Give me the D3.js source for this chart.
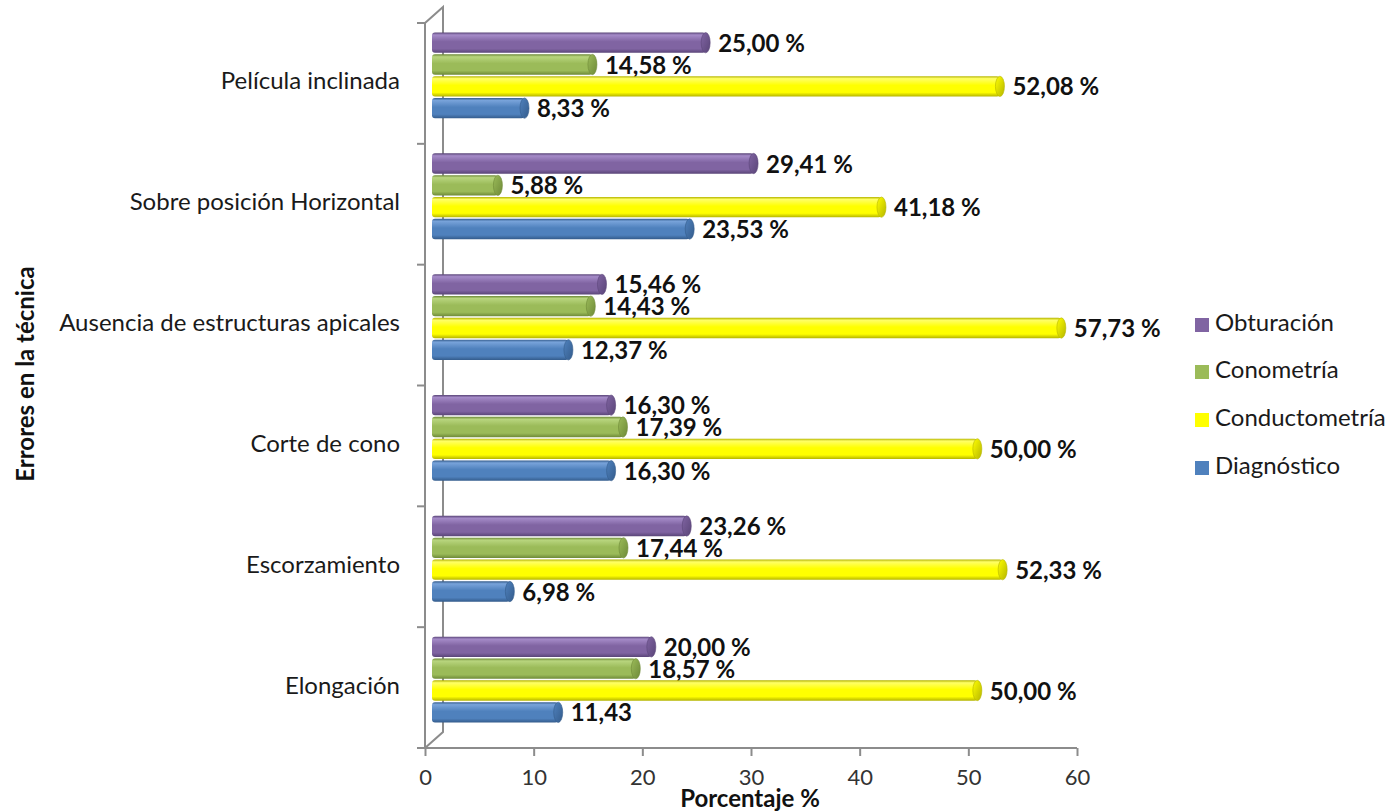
<!DOCTYPE html>
<html><head><meta charset="utf-8">
<script src="https://cdn.jsdelivr.net/npm/d3@7"></script>
<style>body{margin:0;background:#fff}svg{display:block}</style>
</head><body>
<svg id="c" width="1399" height="811"></svg>
<script>
const categories = ["Película inclinada","Sobre posición Horizontal","Ausencia de estructuras apicales","Corte de cono","Escorzamiento","Elongación"];
const seriesNames = ["Obturación","Conometría","Conductometría","Diagnóstico"];
const obturacion    = [25.00, 29.41, 15.46, 16.30, 23.26, 20.00];
const conometria    = [14.58, 5.88, 14.43, 17.39, 17.44, 18.57];
const conductometria= [52.08, 41.18, 57.73, 50.00, 52.33, 50.00];
const diagnostico   = [8.33, 23.53, 12.37, 16.30, 6.98, 11.43];
const labelsObt  = ["25,00 %","29,41 %","15,46 %","16,30 %","23,26 %","20,00 %"];
const labelsCon  = ["14,58 %","5,88 %","14,43 %","17,39 %","17,44 %","18,57 %"];
const labelsCond = ["52,08 %","41,18 %","57,73 %","50,00 %","52,33 %","50,00 %"];
const labelsDiag = ["8,33 %","23,53 %","12,37 %","16,30 %","6,98 %","11,43"];
const xTicks = [0,10,20,30,40,50,60];

(function(){
const seriesValues = [obturacion, conometria, conductometria, diagnostico];
const seriesLabels = [labelsObt, labelsCon, labelsCond, labelsDiag];
const colors = [
  {base:"#8064A2", light:"#A58BC8", dark:"#5A4578"},
  {base:"#9BBB59", light:"#B8D57E", dark:"#6E8A38"},
  {base:"#FFFF00", light:"#FFFF66", dark:"#B5B500"},
  {base:"#4F81BD", light:"#78A3DA", dark:"#345C8C"}
];

const svg = d3.select("#c");
const pL = 425, pR = 1077, pT = 23, pB = 748;
const dx = 18, dy = 16; // 3D depth
const x = d3.scaleLinear().domain([0,60]).range([pL,pR]);
const y = d3.scaleBand().domain(categories).range([pT,pB]).paddingInner(0.29).paddingOuter(0.145);
const yIn = d3.scaleBand().domain(seriesNames).range([0,y.bandwidth()]).paddingInner(0.07);

const font = "Lato, 'Open Sans', sans-serif";
const defs = svg.append("defs");
colors.forEach((c,i)=>{
  const g = defs.append("linearGradient").attr("id","g"+i).attr("x1",0).attr("y1",0).attr("x2",0).attr("y2",1);
  g.append("stop").attr("offset","0%").attr("stop-color",c.dark);
  g.append("stop").attr("offset","12%").attr("stop-color",c.light);
  g.append("stop").attr("offset","45%").attr("stop-color",c.base);
  g.append("stop").attr("offset","80%").attr("stop-color",c.base);
  g.append("stop").attr("offset","100%").attr("stop-color",c.dark);
  const g2 = defs.append("linearGradient").attr("id","gc"+i).attr("x1",0).attr("y1",0).attr("x2",1).attr("y2",1);
  g2.append("stop").attr("offset","0%").attr("stop-color",c.base);
  g2.append("stop").attr("offset","100%").attr("stop-color",c.dark);
});

const axisColor = "#8c8c8c";
const ax = svg.append("g").attr("stroke",axisColor).attr("stroke-width",2).attr("fill","none");
ax.append("path").attr("d",`M${pL},${pT} L${pL+dx},${pT-dy} L${pL+dx},${pB-dy} L${pL},${pB}`);
ax.append("line").attr("x1",pL).attr("y1",pT).attr("x2",pL).attr("y2",pB);
const bounds = categories.map(c=>y(c)-y.step()*y.paddingInner()/2).concat([pB]);
ax.selectAll(".ct").data(bounds).join("line").attr("x1",pL-8).attr("x2",pL).attr("y1",d=>d).attr("y2",d=>d);

const xa = svg.append("g").attr("transform",`translate(0,${pB})`)
  .call(d3.axisBottom(x).tickValues(xTicks).tickSize(8).tickPadding(13).tickFormat(d3.format("d")));
xa.select(".domain").attr("stroke",axisColor).attr("stroke-width",2).attr("d",`M${pL-8},0H${pR}`);
xa.selectAll(".tick line").attr("stroke",axisColor).attr("stroke-width",2);
xa.selectAll(".tick text").attr("font-family",font).attr("font-size",22).attr("fill","#333");

const capRx = 4.5;
categories.forEach((cat,ci)=>{
  seriesNames.forEach((s,si)=>{
    const v = seriesValues[si][ci];
    const by = y(cat) + yIn(s) - dy/2;
    const h = yIn.bandwidth();
    const x0 = x(0) + dx/2 - 2, x1 = x(v) + dx/2;
    const g = svg.append("g");
    g.append("rect").attr("x",x0).attr("y",by).attr("width",x1-x0).attr("height",h)
      .attr("rx",3).attr("fill",`url(#g${si})`);
    g.append("ellipse").attr("cx",x1).attr("cy",by+h/2).attr("rx",capRx).attr("ry",h/2)
      .attr("fill",`url(#gc${si})`).attr("stroke",colors[si].dark).attr("stroke-width",0.6);
    svg.append("text").attr("x",x1+capRx+8).attr("y",by+h/2+3).attr("dominant-baseline","middle")
      .attr("font-family",font).attr("font-weight","bold").attr("font-size",24).attr("fill","#111")
      .text(seriesLabels[si][ci]);
  });
});

svg.selectAll(".cl").data(categories).join("text")
  .attr("x",400).attr("y",d=>y(d)+y.bandwidth()/2).attr("text-anchor","end").attr("dominant-baseline","middle")
  .attr("font-family",font).attr("font-size",24).attr("fill","#1a1a1a").text(d=>d);

svg.append("text").attr("transform","translate(34,374) rotate(-90)").attr("text-anchor","middle")
  .attr("font-family",font).attr("font-weight","bold").attr("font-size",24).attr("fill","#111").text("Errores en la técnica");
svg.append("text").attr("x",750).attr("y",807).attr("text-anchor","middle")
  .attr("font-family",font).attr("font-weight","bold").attr("font-size",24).attr("fill","#111").text("Porcentaje %");

const leg = svg.append("g");
const legY = [325, 372, 420, 468];
seriesNames.forEach((s,i)=>{
  leg.append("rect").attr("x",1195).attr("y",legY[i]-7).attr("width",14).attr("height",14).attr("fill",colors[i].base);
  leg.append("text").attr("x",1215).attr("y",legY[i]).attr("dominant-baseline","middle")
    .attr("font-family",font).attr("font-size",24).attr("fill","#1a1a1a").text(s);
});
})();
</script>
</body></html>
